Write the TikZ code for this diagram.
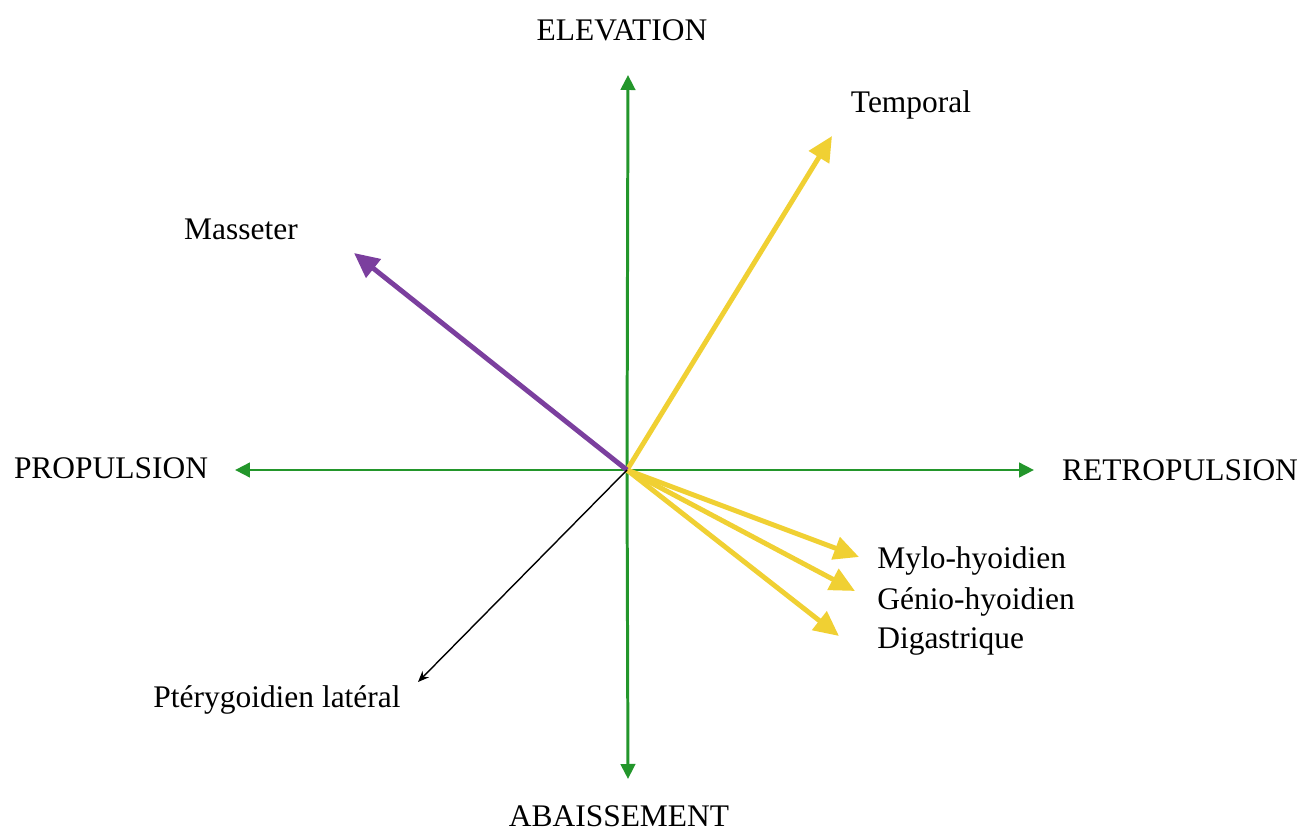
\documentclass[tikz,border=0pt]{standalone}
\usepackage{fontspec}
\setmainfont{Liberation Serif}
\usepackage{tikz}
\usetikzlibrary{arrows.meta, positioning}
\definecolor{axisgreen}{HTML}{23962B}
\definecolor{muscleyellow}{HTML}{F0D033}
\definecolor{musclepurple}{HTML}{7B3F9E}

\begin{document}
\begin{tikzpicture}[
    x=0.02cm, y=-0.02cm,
    lbl/.style={inner sep=0pt, font=\fontsize{17.9}{21}\selectfont},
    axis/.style={-{Triangle[length=3mm, width=2.9mm]}, line width=1.7pt, draw=axisgreen, fill=axisgreen},
    pull/.style={-{Triangle[length=5mm, width=4.6mm]}, line width=2.8pt, draw=muscleyellow, fill=muscleyellow},
]
\useasboundingbox (0,0) rectangle (1303,831);

\coordinate (o) at (627, 470);
\coordinate (up) at (628, 75);
\coordinate (down) at (628, 779);
\coordinate (left) at (235, 470);
\coordinate (right) at (1034, 470);
\coordinate (temp) at (832, 136);
\coordinate (mass) at (354, 253);
\coordinate (mylo) at (859, 557);
\coordinate (genio) at (855, 591);
\coordinate (diga) at (839, 636);
\coordinate (pter) at (418, 682);

\node[lbl] (elev) at (622, 30) {ELEVATION};
\node[lbl] (abai) at (619, 816) {ABAISSEMENT};
\node[lbl] (prop) at (111, 468) {PROPULSION};
\node[lbl] (retro) at (1180, 470) {RETROPULSION};
\node[lbl] (templ) at (911, 105) {Temporal};
\node[lbl] (massl) at (241, 229) {Masseter};
\node[lbl, anchor=west] (mylol) at (877, 561) {Mylo-hyoidien};
\node[lbl, anchor=west] (geniol) at (877, 602) {Génio-hyoidien};
\node[lbl, anchor=west] (digal) at (877, 641) {Digastrique};
\node[lbl] (pterl) at (277, 700) {Ptérygoidien latéral};

% axes
\draw[axis] (o) -- (up);
\draw[axis] (o) -- (down);
\draw[axis] (o) -- (left);
\draw[axis] (o) -- (right);

% muscles
\draw[pull] (o) -- (temp);
\draw[pull] (o) -- (mylo);
\draw[pull] (o) -- (genio);
\draw[pull] (o) -- (diga);
\draw[pull, draw=musclepurple, fill=musclepurple] (o) -- (mass);
\draw[-{Stealth[length=2.2mm, width=1.8mm]}, line width=0.8pt] (o) -- (pter);

\end{tikzpicture}
\end{document}
